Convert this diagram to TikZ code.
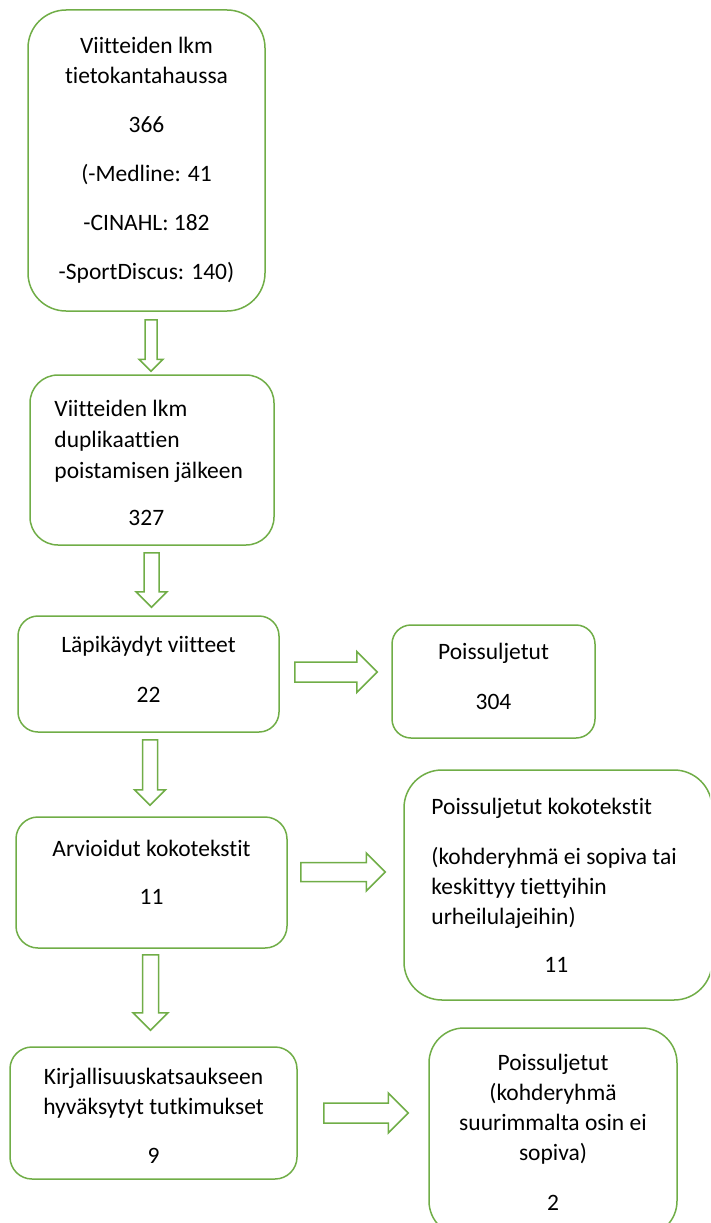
\documentclass[tikz,border=0pt]{standalone}
\usepackage{fontspec}
\setmainfont{Carlito}[Ligatures={NoCommon,NoContextual}]
\usepackage{tikz}
\usetikzlibrary{calc}
\definecolor{boxgreen}{HTML}{70AD47}

\begin{document}
\begin{tikzpicture}[x=1pt, y=-1pt]
	\tikzset{
		stepbox/.style={draw=boxgreen, line width=1.5pt, inner sep=0pt},
		boxtext/.style={inner sep=0pt, font=\fontsize{23.5}{30}\selectfont, align=center},
		down block/.style 2 args={to path={let \p1=(\tikztostart), \p2=(\tikztotarget) in
			(\x1-#1pt,\y1) -- (\x1+#1pt,\y1) -- (\x1+#1pt,\y2+#2pt) -- (\x1+#2pt,\y2+#2pt)
			-- (\x1,\y2) -- (\x1-#2pt,\y2+#2pt) -- (\x1-#1pt,\y2+#2pt) -- cycle}},
		right block/.style 2 args={to path={let \p1=(\tikztostart), \p2=(\tikztotarget) in
			(\x1,\y1+#1pt) -- (\x2-#2pt,\y1+#1pt) -- (\x2-#2pt,\y1+#2pt) -- (\x2,\y1)
			-- (\x2-#2pt,\y1-#2pt) -- (\x2-#2pt,\y1-#1pt) -- (\x1,\y1-#1pt) -- cycle}},
		block/.style={draw=boxgreen, line width=1.5pt, line join=miter}
	}
	\useasboundingbox (0,0) rectangle (710,1223);
	\clip (0,0) rectangle (710,1223);
	% boxes
	\node[stepbox, minimum width=237pt, minimum height=301pt, rounded corners=38pt] (b1) at (146.5,160.5) {};
	\node[stepbox, minimum width=244pt, minimum height=170pt, rounded corners=28pt] (b2) at (152,460) {};
	\node[stepbox, minimum width=261pt, minimum height=116pt, rounded corners=20pt] (b3) at (148.5,674) {};
	\node[stepbox, minimum width=203pt, minimum height=113pt, rounded corners=19pt] (b4) at (493.5,681.5) {};
	\node[stepbox, minimum width=271pt, minimum height=131pt, rounded corners=22pt] (b5) at (151.5,882.5) {};
	\node[stepbox, minimum width=308pt, minimum height=230pt, rounded corners=38pt] (b6) at (558,885) {};
	\node[stepbox, minimum width=287pt, minimum height=132pt, rounded corners=22pt] (b7) at (153.5,1113) {};
	\node[stepbox, minimum width=248pt, minimum height=208pt, rounded corners=35pt] (b8) at (553,1132) {};
	% texts
	\node[boxtext] (t1) at (b1)
		{Viitteiden lkm\\ tietokantahaussa\\[19pt] 366\\[19pt] (-Medline: 41\\[19pt]
		 -CINAHL: 182\\[19pt] -SportDiscus: 140)};
	\node[boxtext, anchor=west, align=left] (t2) at ($(b2.west)+(25,3)$)
		{Viitteiden lkm\\[1pt] duplikaattien\\[1pt] poistamisen jälkeen\\[17pt] \hspace*{74pt}327};
	\node[boxtext] (t3) at ($(b3)+(0,-5)$) {Läpikäydyt viitteet\\[20pt] 22};
	\node[boxtext] (t4) at ($(b4)+(0,-5)$) {Poissuljetut\\[20pt] 304};
	\node[boxtext] (t5) at ($(b5)+(0,-10)$) {Arvioidut kokotekstit\\[18pt] 11};
	\node[boxtext, anchor=west, align=left] (t6) at ($(b6.west)+(28,0)$)
		{Poissuljetut kokotekstit\\[20pt] (kohderyhmä ei sopiva tai\\ keskittyy tiettyihin\\
		 urheilulajeihin)\\[18pt] \hspace*{113pt}11};
	\node[boxtext] (t7) at ($(b7)+(0,3)$) {Kirjallisuuskatsaukseen\\ hyväksytyt tutkimukset\\[19pt] 9};
	\node[boxtext] (t8) at (b8) {Poissuljetut\\ (kohderyhmä\\ suurimmalta osin ei\\ sopiva)\\[20pt] 2};
	% block arrows between the boxes
	\draw[block] ($(b1.south)+(4.5,8)$) to[down block={6}{12}] ($(b2.north)+(0,-3)$);
	\draw[block] ($(b2.south)+(-0.5,7)$) to[down block={7.5}{15.5}] ($(b3.north)+(0,-8)$);
	\draw[block] ($(b3.south)+(1.5,7)$) to[down block={7.5}{15.5}] ($(b5.north)+(0,-11)$);
	\draw[block] ($(b5.south)+(-1,6)$) to[down block={8}{17.5}] ($(b7.north)+(0,-16)$);
	\draw[block] ($(b3.east)+(15,-2)$) to[right block={10}{20.5}] ($(b4.west)+(-14,0)$);
	\draw[block] ($(b5.east)+(13,-10.5)$) to[right block={9.5}{19}] ($(b6.west)+(-18,0)$);
	\draw[block] ($(b7.east)+(26,0)$) to[right block={10}{20}] ($(b8.west)+(-20,0)$);
\end{tikzpicture}
\end{document}
